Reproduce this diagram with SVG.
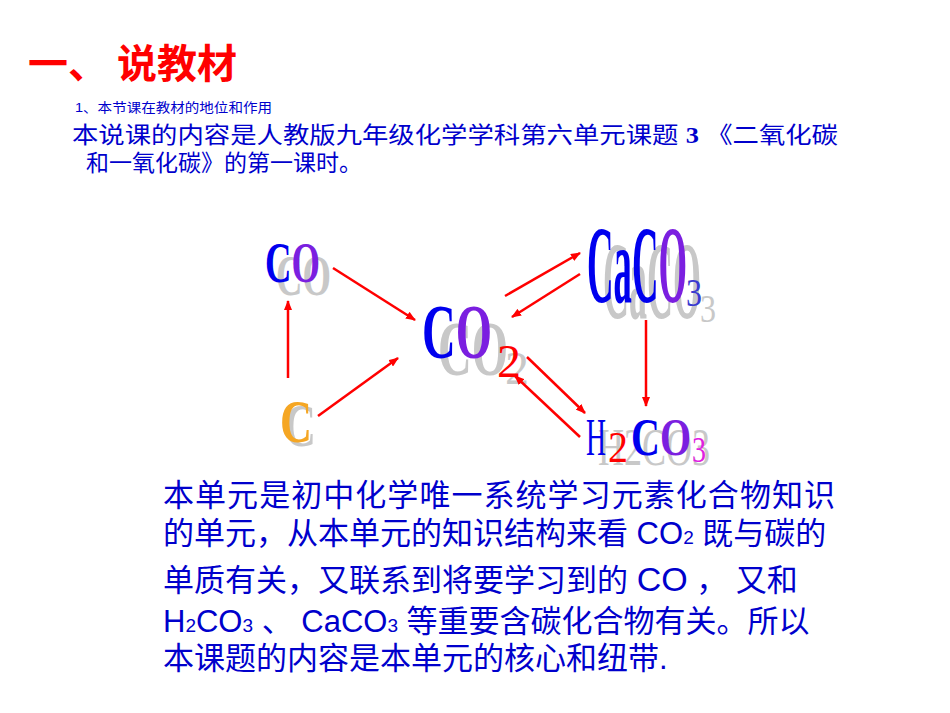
<svg xmlns="http://www.w3.org/2000/svg" width="950" height="713" viewBox="0 0 950 713">
<defs>
<marker id="ah" markerWidth="10" markerHeight="8" refX="9" refY="4" orient="auto" markerUnits="userSpaceOnUse"><path d="M0,0 L10,4 L0,8 Z" fill="#ff0000"/></marker>
</defs>
<style>
.f{font-family:"Liberation Serif",serif;font-weight:bold}
.n{font-weight:normal}
.sh{fill:#c8c8c8}
.cn{font-family:"Liberation Sans","Noto Sans CJK SC",sans-serif;fill:#0000cc}
.ar{stroke:#ff0000;stroke-width:2.5;fill:none;marker-end:url(#ah)}
</style>
<rect width="950" height="713" fill="#fff"/>
<text x="28" y="78" font-family="'Noto Sans CJK SC',sans-serif" font-weight="bold" font-size="40" fill="#ff0000">一、 说教材</text>
<text x="75" y="112" class="cn" font-size="13" textLength="197" lengthAdjust="spacingAndGlyphs">1、本节课在教材的地位和作用</text>
<text x="72" y="143" class="cn" font-size="23" textLength="766" lengthAdjust="spacingAndGlyphs">本说课的内容是人教版九年级化学学科第六单元课题 <tspan font-family="'Liberation Serif',serif" font-weight="bold">3</tspan> 《二氧化碳</text>
<text x="86" y="171" class="cn" font-size="23">和一氧化碳》的第一课时。</text>

<g id="n-co">
<text class="f sh" x="276" y="295" font-size="56" textLength="55" lengthAdjust="spacingAndGlyphs">CO</text>
<text class="f" x="265" y="282" font-size="56" textLength="55" lengthAdjust="spacingAndGlyphs"><tspan fill="#0000ee">C</tspan><tspan fill="#7b1fe0">O</tspan></text>
</g>
<g id="n-c">
<text class="f sh" x="284" y="446" font-size="62" textLength="32" lengthAdjust="spacingAndGlyphs">C</text>
<text class="f" x="280" y="442" font-size="62" fill="#f5a623" textLength="32" lengthAdjust="spacingAndGlyphs">C</text>
</g>
<g id="n-co2">
<text class="f sh" x="438" y="375" font-size="78" textLength="70" lengthAdjust="spacingAndGlyphs">CO</text>
<text class="f sh n" x="505" y="384" font-size="46" textLength="24" lengthAdjust="spacingAndGlyphs">2</text>
<text class="f" x="422" y="358" font-size="78" textLength="70" lengthAdjust="spacingAndGlyphs"><tspan fill="#0000ee">C</tspan><tspan fill="#7b1fe0">O</tspan></text>
<text class="f n" x="497" y="377" font-size="46" fill="#ff0000" textLength="24" lengthAdjust="spacingAndGlyphs">2</text>
</g>
<g id="n-caco3">
<text class="f sh" x="603" y="318" font-size="110" textLength="98" lengthAdjust="spacingAndGlyphs">CaCO</text>
<text class="f sh n" x="700" y="322" font-size="40" textLength="16" lengthAdjust="spacingAndGlyphs">3</text>
<text class="f" x="587" y="302" font-size="110" textLength="100" lengthAdjust="spacingAndGlyphs"><tspan fill="#0000ee">CaC</tspan><tspan fill="#7b1fe0">O</tspan></text>
<text class="f n" x="686" y="306" font-size="40" fill="#3a3ad0" textLength="16" lengthAdjust="spacingAndGlyphs">3</text>
</g>
<g id="n-h2co3">
<text class="f sh n" x="598" y="465" font-size="52" textLength="112" lengthAdjust="spacingAndGlyphs">H2CO3</text>
<text class="f n" x="586" y="455" font-size="52" fill="#0000ee" textLength="20" lengthAdjust="spacingAndGlyphs">H</text>
<text class="f n" x="608" y="462" font-size="44" fill="#ff0000" textLength="20" lengthAdjust="spacingAndGlyphs">2</text>
<text class="f" x="631" y="455" font-size="52" textLength="60" lengthAdjust="spacingAndGlyphs"><tspan fill="#0000ee">C</tspan><tspan fill="#7b1fe0">O</tspan></text>
<text class="f n" x="692" y="462" font-size="36" fill="#e020e0" textLength="14" lengthAdjust="spacingAndGlyphs">3</text>
</g>

<g id="connectors">
<line class="ar" x1="333" y1="268" x2="415" y2="320"/>
<line class="ar" x1="318" y1="416" x2="398" y2="358"/>
<line class="ar" x1="288" y1="378" x2="288" y2="301"/>
<line class="ar" x1="505" y1="296" x2="580" y2="253"/>
<line class="ar" x1="580" y1="274" x2="512" y2="317"/>
<line class="ar" x1="646" y1="320" x2="646" y2="406"/>
<line class="ar" x1="527" y1="357" x2="585" y2="413"/>
<line class="ar" x1="580" y1="437" x2="515" y2="376"/>
</g>

<g id="body" font-size="31">
<text class="cn" x="163" y="506" textLength="672" lengthAdjust="spacing">本单元是初中化学唯一系统学习元素化合物知识</text>
<text class="cn" x="163" y="544">的单元，从本单元的知识结构来看 CO<tspan font-size="19">2</tspan> 既与碳的</text>
<text class="cn" x="163" y="591">单质有关，又联系到将要学习到的 <tspan font-size="34">CO</tspan> ， 又和</text>
<text class="cn" x="163" y="632">H<tspan font-size="19">2</tspan>CO<tspan font-size="19">3</tspan> 、 CaCO<tspan font-size="19">3</tspan> 等重要含碳化合物有关。所以</text>
<text class="cn" x="163" y="669">本课题的内容是本单元的核心和纽带.</text>
</g>
</svg>
